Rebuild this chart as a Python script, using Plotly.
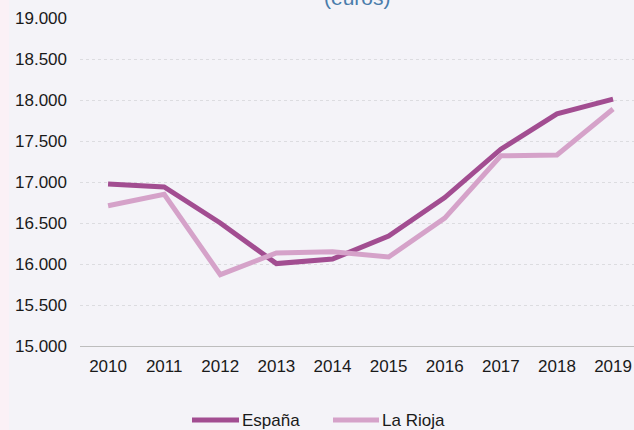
import plotly.graph_objects as go

years = ["2010", "2011", "2012", "2013", "2014", "2015", "2016", "2017", "2018", "2019"]
espana = [16975, 16940, 16500, 16005, 16060, 16340, 16810, 17400, 17830, 18010]
la_rioja = [16710, 16850, 15870, 16135, 16150, 16085, 16560, 17320, 17330, 17890]
y_ticks = [15000, 15500, 16000, 16500, 17000, 17500, 18000, 18500, 19000]

C_ES = "#a24d91"
C_LR = "#d5a2c9"
BG = "#f4f3f8"
FONT = "Liberation Sans, Arial, sans-serif"
FS = 17

fig = go.Figure()
fig.add_trace(go.Scatter(x=years, y=espana, mode="lines", name="España",
                         line=dict(color=C_ES, width=5)))
fig.add_trace(go.Scatter(x=years, y=la_rioja, mode="lines", name="La Rioja",
                         line=dict(color=C_LR, width=5)))

L, T, B = 80, 18, 84
W, H = 634, 430
ph = H - T - B
pw = W - L

def px(x):
    return (x - L) / pw

def py(y):
    return (H - B - y) / ph

shapes = [
    dict(type="rect", xref="paper", yref="paper", x0=px(0), x1=px(9), y0=py(H), y1=py(0),
         fillcolor="#fbf1f6", line=dict(width=0), layer="below"),
    dict(type="line", xref="paper", yref="paper", x0=px(192), x1=px(239), y0=py(420), y1=py(420),
         line=dict(color=C_ES, width=5)),
    dict(type="line", xref="paper", yref="paper", x0=px(333), x1=px(379), y0=py(420), y1=py(420),
         line=dict(color=C_LR, width=5)),
]
annotations = [
    dict(text="(euros)", xref="paper", yref="paper", x=px(357), y=py(-2), xanchor="center",
         yanchor="middle", showarrow=False, font=dict(family=FONT, size=21, color="#4a7cab")),
    dict(text="España", xref="paper", yref="paper", x=px(240), y=py(420), xanchor="left",
         yanchor="middle", showarrow=False, font=dict(family=FONT, size=FS, color="#1a1a1a")),
    dict(text="La Rioja", xref="paper", yref="paper", x=px(380), y=py(420), xanchor="left",
         yanchor="middle", showarrow=False, font=dict(family=FONT, size=FS, color="#1a1a1a")),
]

fig.update_layout(
    width=W, height=H,
    margin=dict(l=L, r=0, t=T, b=B),
    paper_bgcolor=BG, plot_bgcolor=BG,
    separators=",.",
    showlegend=False,
    font=dict(family=FONT, size=FS, color="#1a1a1a"),
    shapes=shapes,
    annotations=annotations,
)
fig.update_xaxes(type="category", range=[-0.5, 9.373], showgrid=False,
                 showline=True, linecolor="#bdbdbd", linewidth=1, ticks="",
                 ticklabelstandoff=5, tickfont=dict(size=FS))
fig.update_yaxes(range=[15000, 19000], tickvals=y_ticks, tickformat=",d",
                 showgrid=True, gridcolor="#dcdce0", griddash="dot", gridwidth=1,
                 zeroline=False, showline=False, ticks="", ticklabelstandoff=12,
                 tickfont=dict(size=FS))

fig.write_html("out.html", config={"displayModeBar": False},
               post_script="document.body.style.margin='0';document.body.style.background='" + BG + "';")
